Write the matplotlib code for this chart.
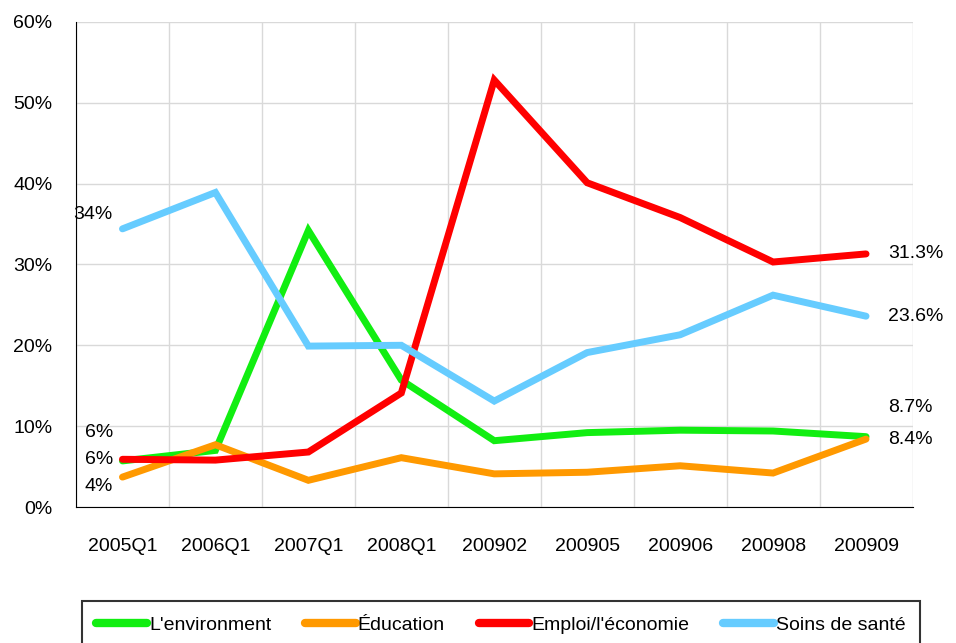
import matplotlib
matplotlib.use("Agg")
import matplotlib.pyplot as plt
import numpy as np

plt.rcParams['font.family'] = ['Liberation Sans', 'DejaVu Sans']

periods = ['2005Q1', '2006Q1', '2007Q1', '2008Q1', '200902', '200905', '200906', '200908', '200909']
environment = [5.7, 7.0, 34.2, 15.7, 8.2, 9.2, 9.5, 9.4, 8.7]
education = [3.7, 7.7, 3.3, 6.1, 4.1, 4.3, 5.1, 4.2, 8.4]
emploi = [5.9, 5.8, 6.8, 14.1, 52.8, 40.1, 35.8, 30.3, 31.3]
sante = [34.4, 38.9, 19.9, 20.0, 13.1, 19.1, 21.3, 26.2, 23.6]

names = ["L'environment", "Éducation", "Emploi/l'économie", "Soins de santé"]
colors = ['#11EE11', '#FF9900', '#FF0000', '#66CCFF']
series = [environment, education, emploi, sante]

fig = plt.figure(figsize=(9.56, 6.43), dpi=100)
ax = fig.add_axes([0.0795, 0.2115, 0.875, 0.7545])

x = np.arange(len(periods))
for vals, c, n in zip(series, colors, names):
    ax.plot(x, vals, color=c, lw=5, label=n, solid_capstyle='round', solid_joinstyle='miter')

ax.set_xlim(-0.5, len(periods) - 0.5)
ax.set_ylim(0, 60)
ax.set_yticks(range(0, 61, 10))
ax.set_yticklabels([f'{v}%' for v in range(0, 61, 10)], fontsize=14)
ax.set_xticks(x)
ax.set_xticklabels(periods, fontsize=14)
ax.set_xticks(np.arange(-0.5, len(periods)), minor=True)
ax.tick_params(axis='both', which='both', length=0)
ax.tick_params(axis='x', pad=22)
ax.tick_params(axis='y', pad=17)
ax.grid(True, axis='y', color='#d9d9d9', lw=1)
ax.grid(True, axis='x', which='minor', color='#d9d9d9', lw=1)
ax.grid(False, axis='x', which='major')
ax.set_axisbelow(True)
for s in ['top', 'right']:
    ax.spines[s].set_visible(False)
ax.spines['left'].set_color('black')
ax.spines['bottom'].set_color('black')

# left labels
left_labels = [('34%', sante[0], 10), ('6%', emploi[0], 19), ('6%', environment[0], 1), ('4%', education[0], -7)]
for txt, v, dy in left_labels:
    ax.annotate(txt, (0, v), xytext=(-7, dy), textcoords='offset points',
                ha='right', va='center', fontsize=14)

# right labels
right_labels = [('31.3%', emploi[-1], 0), ('23.6%', sante[-1], 0), ('8.7%', environment[-1], 21), ('8.4%', education[-1], 0)]
for txt, v, dy in right_labels:
    ax.annotate(txt, (8, v), xytext=(16, dy), textcoords='offset points',
                ha='left', va='center', fontsize=14)

leg = fig.legend(loc='lower center', bbox_to_anchor=(0.524, -0.008), ncol=4, fontsize=14,
                 frameon=True, fancybox=False, edgecolor='black', handlelength=2.6,
                 handletextpad=0.1, columnspacing=1.75, borderpad=0.75, borderaxespad=0)
leg.get_frame().set_linewidth(1.5)
for h in leg.get_lines():
    h.set_linewidth(6)

fig.savefig('out.png', dpi=100)
